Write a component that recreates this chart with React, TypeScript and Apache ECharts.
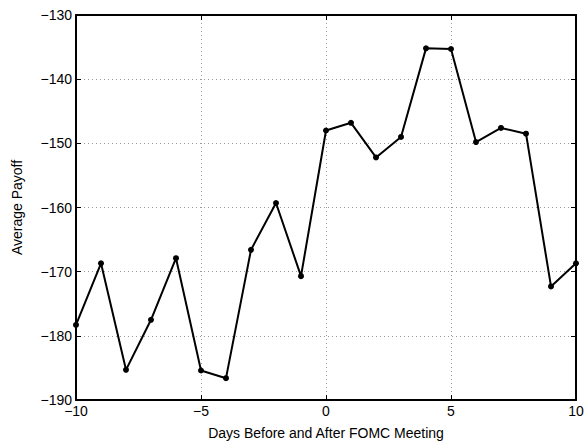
import React, { useEffect, useRef } from "react";
import * as echarts from "echarts";

const days = [-10, -9, -8, -7, -6, -5, -4, -3, -2, -1, 0, 1, 2, 3, 4, 5, 6, 7, 8, 9, 10];
const payoff = [-178.3, -168.7, -185.3, -177.5, -167.9, -185.4, -186.6, -166.6, -159.3, -170.7, -148.0, -146.8, -152.2, -149.0, -135.2, -135.3, -149.8, -147.6, -148.5, -172.3, -168.7];

const xTitle = "Days Before and After FOMC Meeting";
const yTitle = "Average Payoff";

const fmt = (v: number) => String(v).replace("-", "\u2212");
const font = "Liberation Sans, Arial, Helvetica, sans-serif";

export default function App() {
  const ref = useRef<HTMLDivElement>(null);
  useEffect(() => {
    const chart = echarts.init(ref.current!, null, { renderer: "svg" });
    const tickStyle = { inside: true, length: 5, lineStyle: { color: "#000", width: 1 } };
    const split = { show: true, lineStyle: { color: "#999", type: [1, 3] as any, width: 1 } };
    chart.setOption({
      animation: false,
      backgroundColor: "#fff",
      grid: { left: 76, top: 15, right: 12, bottom: 44, containLabel: false },
      xAxis: [
        {
          type: "value",
          min: -10,
          max: 10,
          interval: 5,
          name: xTitle,
          nameLocation: "middle",
          nameGap: 26,
          nameTextStyle: { color: "#000", fontSize: 14, fontFamily: font },
          axisLine: { show: true, onZero: false, lineStyle: { color: "#000", width: 2 } },
          axisTick: tickStyle,
          axisLabel: { color: "#000", fontSize: 14, fontFamily: font, margin: 4, formatter: fmt },
          splitLine: split,
        },
        {
          type: "value",
          position: "top",
          min: -10,
          max: 10,
          interval: 5,
          axisLine: { show: true, onZero: false, lineStyle: { color: "#000", width: 2 } },
          axisTick: tickStyle,
          axisLabel: { show: false },
          splitLine: { show: false },
        },
      ],
      yAxis: [
        {
          type: "value",
          min: -190,
          max: -130,
          interval: 10,
          name: yTitle,
          nameLocation: "middle",
          nameGap: 52,
          nameTextStyle: { color: "#000", fontSize: 14, fontFamily: font },
          axisLine: { show: true, onZero: false, lineStyle: { color: "#000", width: 2 } },
          axisTick: tickStyle,
          axisLabel: { color: "#000", fontSize: 14, fontFamily: font, margin: 4, formatter: fmt },
          splitLine: split,
        },
        {
          type: "value",
          position: "right",
          min: -190,
          max: -130,
          interval: 10,
          axisLine: { show: true, onZero: false, lineStyle: { color: "#000", width: 2 } },
          axisTick: tickStyle,
          axisLabel: { show: false },
          splitLine: { show: false },
        },
      ],
      series: [
        {
          type: "line",
          data: days.map((d, i) => [d, payoff[i]]),
          symbol: "circle",
          symbolSize: 6,
          lineStyle: { color: "#000", width: 2 },
          itemStyle: { color: "#000" },
          clip: false,
        },
      ],
    });
    return () => chart.dispose();
  }, []);
  return <div ref={ref} style={{ width: 588, height: 445, position: "absolute", left: 0, top: 0 }} />;
}
